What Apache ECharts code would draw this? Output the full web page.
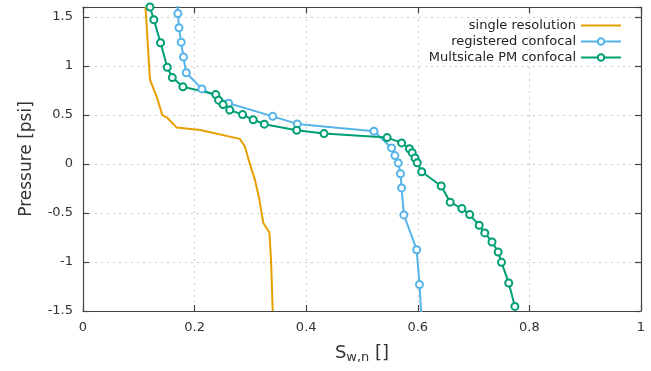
<!DOCTYPE html>
<html>
<head>
<meta charset="utf-8">
<script src="https://cdn.jsdelivr.net/npm/echarts@6/dist/echarts.min.js"></script>
<style>html,body{margin:0;padding:0;background:#fff}#c{width:651px;height:371px}</style>
</head>
<body>
<div id="c"></div>
<script>
var seriesNames = ['single resolution', 'registered confocal', 'Multsicale PM confocal'];
var xTicks = [0, 0.2, 0.4, 0.6, 0.8, 1];
var yTicks = [-1.5, -1, -0.5, 0, 0.5, 1, 1.5];

var singleRes = [[0.112,1.6],[0.120,0.86],[0.133,0.67],[0.142,0.50],[0.151,0.47],[0.168,0.37],[0.21,0.345],[0.281,0.255],[0.29,0.18],[0.299,0.0],[0.308,-0.16],[0.316,-0.36],[0.323,-0.60],[0.334,-0.70],[0.337,-0.98],[0.340,-1.5]];
var registered = [[0.169,1.66],[0.170,1.534],[0.172,1.388],[0.176,1.24],[0.180,1.09],[0.185,0.93],[0.213,0.765],[0.261,0.618],[0.340,0.485],[0.384,0.408],[0.5215,0.333],[0.553,0.163],[0.559,0.085],[0.565,0.01],[0.569,-0.1],[0.571,-0.245],[0.575,-0.52],[0.598,-0.875],[0.603,-1.23],[0.607,-1.6]];
var multiscale = [[0.120,1.6],[0.127,1.47],[0.139,1.235],[0.151,0.986],[0.160,0.88],[0.179,0.786],[0.238,0.707],[0.243,0.65],[0.251,0.605],[0.263,0.55],[0.286,0.503],[0.305,0.45],[0.325,0.405],[0.383,0.343],[0.432,0.309],[0.545,0.268],[0.571,0.214],[0.585,0.155],[0.590,0.115],[0.595,0.06],[0.599,0.012],[0.607,-0.08],[0.642,-0.225],[0.658,-0.39],[0.679,-0.456],[0.693,-0.517],[0.71,-0.626],[0.720,-0.704],[0.733,-0.796],[0.744,-0.898],[0.750,-1.004],[0.763,-1.214],[0.774,-1.453]];

var colors = ['#e69f00', '#56b4e9', '#009e73'];
var FONT = 'DejaVu Sans';
var chart = echarts.init(document.getElementById('c'), null, {renderer: 'canvas'});

function fmt(v){ return String(v); }

var gridLine = {show: true, lineStyle: {color: '#cccccc', type: [2, 4], width: 1}};
var baseX = {
  type: 'value', min: 0, max: 1, interval: 0.2,
  axisLine: {show: true, onZero: false, lineStyle: {color: '#444', width: 1.2}},
  axisTick: {show: true, inside: true, length: 6, lineStyle: {color: '#444', width: 1.2}}
};
var baseY = {
  type: 'value', min: -1.5, max: 1.6, interval: 0.5,
  axisLine: {show: true, onZero: false, lineStyle: {color: '#444', width: 1.2}},
  axisTick: {show: true, inside: true, length: 6, lineStyle: {color: '#444', width: 1.2}}
};

var option = {
  backgroundColor: '#fff',
  animation: false,
  textStyle: {fontFamily: FONT},
  grid: {left: 83, right: 10, top: 7, bottom: 60, containLabel: false},
  legend: {
    orient: 'vertical', right: 24, top: 14, align: 'right',
    itemWidth: 40, itemHeight: 8, itemGap: 3,
    textStyle: {fontFamily: FONT, fontSize: 13, color: '#222'},
    data: [
      {name: seriesNames[0], itemStyle: {opacity: 0}},
      {name: seriesNames[1]},
      {name: seriesNames[2]}
    ]
  },
  xAxis: [
    Object.assign({}, baseX, {
      position: 'bottom',
      splitLine: gridLine,
      axisLabel: {margin: 10, fontSize: 13, color: '#333', fontFamily: FONT, formatter: fmt},
      name: '{a|S}{b|w,n}{a| []}', nameLocation: 'middle', nameGap: 32,
      nameTextStyle: {rich: {a: {fontSize: 18, color: '#333', fontFamily: FONT}, b: {fontSize: 13, color: '#333', fontFamily: FONT, padding: [8, 0, 0, 0]}}}
    }),
    Object.assign({}, baseX, {position: 'top', splitLine: {show: false}, axisLabel: {show: false}})
  ],
  yAxis: [
    Object.assign({}, baseY, {
      position: 'left',
      splitLine: gridLine,
      axisLabel: {margin: 10, fontSize: 13, color: '#333', fontFamily: FONT, formatter: function(v){ return yTicks.indexOf(v) >= 0 ? String(v) : ''; }},
      name: 'Pressure [psi]', nameLocation: 'middle', nameGap: 48,
      nameTextStyle: {fontSize: 17, color: '#333', fontFamily: FONT}
    }),
    Object.assign({}, baseY, {position: 'right', splitLine: {show: false}, axisLabel: {show: false}})
  ],
  series: [
    {name: seriesNames[0], type: 'line', data: singleRes, showSymbol: false, symbol: 'none', clip: true,
     lineStyle: {color: colors[0], width: 2}, itemStyle: {color: colors[0]}},
    {name: seriesNames[1], type: 'line', data: registered, symbol: 'emptyCircle', symbolSize: 7, clip: true,
     lineStyle: {color: colors[1], width: 2}, itemStyle: {color: colors[1], borderWidth: 2}},
    {name: seriesNames[2], type: 'line', data: multiscale, symbol: 'emptyCircle', symbolSize: 7, clip: true,
     lineStyle: {color: colors[2], width: 2}, itemStyle: {color: colors[2], borderWidth: 2}}
  ]
};
chart.setOption(option);
</script>
</body>
</html>
